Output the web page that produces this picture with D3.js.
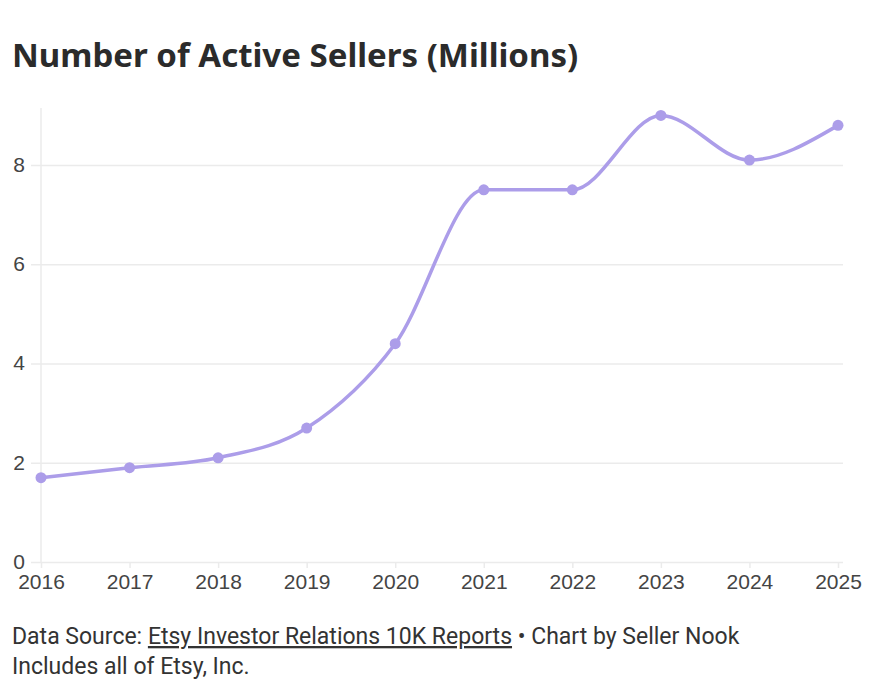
<!DOCTYPE html>
<html>
<head>
<meta charset="utf-8">
<script src="https://cdn.jsdelivr.net/npm/d3@7"></script>
<style>
  body { margin: 0; background: #fff; }
  svg { font-family: "Roboto", "Liberation Sans", sans-serif; }
</style>
</head>
<body>
<div id="chart"></div>
<script>
// Data
const years = [2016, 2017, 2018, 2019, 2020, 2021, 2022, 2023, 2024, 2025];
const sellers = [1.7, 1.9, 2.1, 2.7, 4.4, 7.5, 7.5, 9.0, 8.1, 8.8];
const yTicks = [0, 2, 4, 6, 8];

const W = 884, H = 683;
const margin = { top: 108, right: 46, bottom: 121, left: 41 };
const width = W - margin.left - margin.right;
const height = H - margin.top - margin.bottom;

const svg = d3.select("#chart").append("svg")
  .attr("width", W).attr("height", H);

// Title
svg.append("text")
  .attr("x", 12).attr("y", 67)
  .attr("font-family", "'Noto Sans', sans-serif")
  .attr("font-weight", 700)
  .attr("font-size", 33)
  .attr("fill", "#2b2b2b")
  .text("Number of Active Sellers (Millions)");

const g = svg.append("g").attr("transform", `translate(${margin.left},${margin.top})`);

const x = d3.scaleLinear().domain([2016, 2025]).range([0, width]);
const y = d3.scaleLinear().domain([0, 9.15]).range([height, 0]);

// horizontal gridlines
g.append("g")
  .call(d3.axisLeft(y).tickValues(yTicks).tickSize(-width - 5))
  .call(a => a.select(".domain").remove())
  .call(a => a.selectAll(".tick line").attr("stroke", "#ebebeb").attr("x1", -10).attr("stroke-width", 1.5))
  .call(a => a.selectAll(".tick text")
    .attr("font-size", 21).attr("fill", "#444").attr("x", -16).attr("dy", "0.3em"));

// y axis line
g.append("line")
  .attr("x1", 0).attr("x2", 0).attr("y1", 0).attr("y2", height)
  .attr("stroke", "#ebebeb").attr("stroke-width", 1.5);

// x axis
g.append("g")
  .attr("transform", `translate(0,${height})`)
  .call(d3.axisBottom(x).tickValues(years).tickFormat(d3.format("d")).tickSize(6).tickPadding(6))
  .call(a => a.select(".domain").remove())
  .call(a => a.selectAll(".tick line").attr("stroke", "#ebebeb").attr("stroke-width", 1.5))
  .call(a => a.selectAll(".tick text").attr("font-size", 21).attr("fill", "#444"));

const data = years.map((yr, i) => ({ year: yr, value: sellers[i] }));

const line = d3.line()
  .x(d => x(d.year))
  .y(d => y(d.value))
  .curve(d3.curveMonotoneX);

g.append("path")
  .datum(data)
  .attr("fill", "none")
  .attr("stroke", "#ac9de9")
  .attr("stroke-width", 3.5)
  .attr("d", line);

g.selectAll(".dot")
  .data(data)
  .enter()
  .append("circle")
  .attr("class", "dot")
  .attr("cx", d => x(d.year))
  .attr("cy", d => y(d.value))
  .attr("r", 5.5)
  .attr("fill", "#ac9de9");

// Footer
const foot = svg.append("text")
  .attr("x", 12).attr("y", 644)
  .attr("font-size", 23).attr("fill", "#333");
foot.append("tspan").text("Data Source: ");
foot.append("tspan").attr("text-decoration", "underline").text("Etsy Investor Relations 10K Reports");
foot.append("tspan").text(" \u2022 Chart by Seller Nook");

svg.append("text")
  .attr("x", 12).attr("y", 674)
  .attr("font-size", 23).attr("fill", "#333")
  .text("Includes all of Etsy, Inc.");
</script>
</body>
</html>
